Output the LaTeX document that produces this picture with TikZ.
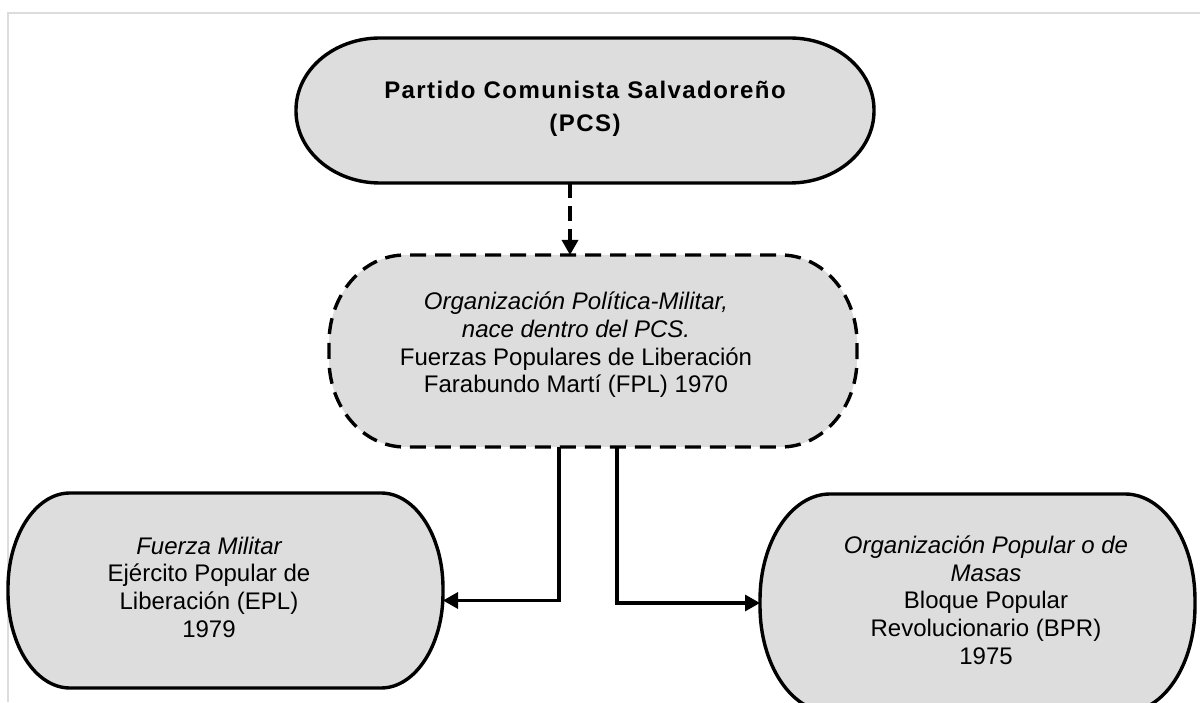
\documentclass[tikz,border=0pt]{standalone}
\usepackage{fontspec}
\setmainfont{Liberation Sans}
\usetikzlibrary{arrows.meta}
\definecolor{boxfill}{HTML}{DDDDDD}
\definecolor{framegray}{HTML}{DCDCDC}
\newcommand\ebox[4]{%
  \path[#4] ([yshift=#3pt]#1.south west) -- ([yshift=-#3pt]#1.north west)
    arc[start angle=180, end angle=90, x radius=#2pt, y radius=#3pt]
    -- ([xshift=-#2pt]#1.north east)
    arc[start angle=90, end angle=0, x radius=#2pt, y radius=#3pt]
    -- ([yshift=#3pt]#1.south east)
    arc[start angle=0, end angle=-90, x radius=#2pt, y radius=#3pt]
    -- ([xshift=#2pt]#1.south west)
    arc[start angle=270, end angle=180, x radius=#2pt, y radius=#3pt]
    -- cycle;}
\tikzset{
  boxframe/.style={draw=none, fill=none, inner sep=0pt, outer sep=0pt},
  solidbox/.style={fill=boxfill, draw=black, line width=3.4pt},
  dashbox/.style={fill=boxfill, draw=black, line width=3.4pt, dash pattern=on 16pt off 9pt},
  boxtext/.style={align=center, inner sep=0pt, font=\fontsize{24}{27.7}\selectfont},
  conn/.style={draw=black, line width=3.2pt, -{Triangle[length=15pt,width=16pt]}},
  dashconn/.style={conn, dash pattern=on 15pt off 8pt}
}
\begin{document}
\begin{tikzpicture}[x=1pt,y=1pt]
\useasboundingbox (0,0) rectangle (1200,702);
\draw[framegray, line width=1.5pt] (8,0) -- (8,689) -- (1200,689);
% box frames
\node[boxframe, minimum width=578pt, minimum height=145pt] (top) at (585,591.5) {};
\node[boxframe, minimum width=528pt, minimum height=192pt] (mid) at (593,351) {};
\node[boxframe, minimum width=435pt, minimum height=195pt] (epl) at (225.5,111.5) {};
\node[boxframe, minimum width=435pt, minimum height=218pt] (bpr) at (977.5,99) {};
% shapes
\ebox{top}{84}{72}{solidbox}
\ebox{mid}{76}{88}{dashbox}
\ebox{epl}{62}{95}{solidbox}
\ebox{bpr}{70}{106}{solidbox}
% texts
\node[boxtext, font=\fontsize{24}{33}\selectfont\bfseries\addfontfeature{LetterSpace=6}] (toptext) at (585,593)
  {Partido Comunista Salvadoreño\\(PCS)};
\node[boxtext] (midtext) at (576,357)
  {\itshape Organización Política-Militar,\\\itshape nace dentro del PCS.\\Fuerzas Populares de Liberación\\Farabundo Martí (FPL) 1970};
\node[boxtext] (epltext) at (209,115)
  {\itshape Fuerza Militar\\Ejército Popular de\\Liberación (EPL)\\1979};
\node[boxtext] (bprtext) at (986,102)
  {\itshape Organización Popular o de\\\itshape Masas\\Bloque Popular\\Revolucionario (BPR)\\1975};
% connectors
\draw[dashconn] ([xshift=-15pt]top.south) -- ([xshift=-23pt]mid.north);
\draw[conn] ([xshift=-34pt]mid.south) |- ([yshift=-10pt]epl.east);
\draw[conn] ([xshift=24pt]mid.south) |- (bpr.west);
\end{tikzpicture}
\end{document}
